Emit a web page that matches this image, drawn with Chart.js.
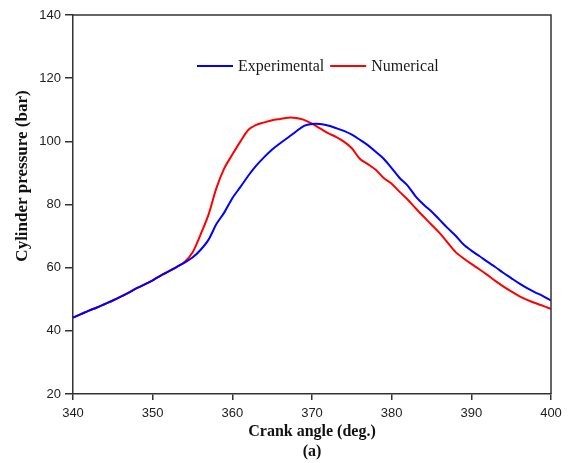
<!DOCTYPE html>
<html>
<head>
<meta charset="utf-8">
<script src="https://cdn.jsdelivr.net/npm/chart.js@4.4.1/dist/chart.umd.min.js"></script>
<style>
  html, body { margin: 0; padding: 0; background: #fff; }
  canvas { display: block; }
</style>
</head>
<body>
<canvas id="chart" width="568" height="463"></canvas>
<script>
// crank angle, deg.
var crankAngle = [340, 341, 342, 343, 344, 345, 346, 347, 348, 349,
  350, 351, 352, 353, 354, 355, 356, 357, 358, 359,
  360, 361, 362, 363, 364, 365, 366, 367, 368, 369,
  370, 371, 372, 373, 374, 375, 376, 377, 378, 379,
  380, 381, 382, 383, 384, 385, 386, 387, 388, 389,
  390, 391, 392, 393, 394, 395, 396, 397, 398, 399, 400];

// cylinder pressure, bar
var experimental = [44.2, 45.3, 46.4, 47.4, 48.5, 49.6, 50.8, 52.1, 53.5, 54.7,
  56.0, 57.5, 58.8, 60.2, 61.6, 63.2, 65.6, 68.8, 73.8, 77.5,
  82.0, 85.5, 89.1, 92.3, 95.0, 97.4, 99.4, 101.2, 103.1, 104.9,
  105.5, 105.5, 105.0, 104.2, 103.3, 102.1, 100.5, 98.8, 96.7, 94.5,
  91.5, 88.4, 86.0, 82.6, 80.0, 77.8, 75.2, 72.6, 70.2, 67.4,
  65.4, 63.7, 61.9, 60.2, 58.4, 56.7, 55.0, 53.5, 52.2, 51.0, 49.6];

var numerical = [44.2, 45.3, 46.4, 47.4, 48.5, 49.6, 50.8, 52.1, 53.5, 54.7,
  56.0, 57.5, 58.8, 60.2, 61.8, 64.8, 70.4, 76.7, 85.2, 91.5,
  95.8, 99.9, 103.6, 105.2, 106.0, 106.7, 107.1, 107.5, 107.4, 106.8,
  105.6, 104.1, 102.6, 101.4, 99.9, 97.8, 94.5, 92.8, 91.0, 88.4,
  86.6, 84.0, 81.6, 78.8, 76.2, 73.6, 71.0, 68.0, 65.0, 63.0,
  61.2, 59.5, 57.7, 55.8, 54.1, 52.5, 51.0, 49.8, 48.8, 47.9, 46.9];

var xTicks = [340, 350, 360, 370, 380, 390, 400];
var yTicks = [20, 40, 60, 80, 100, 120, 140];

var serif = '"Liberation Serif", "Times New Roman", serif';
var sans = '"Liberation Sans", Arial, sans-serif';
var axisColor = '#333';

function points(ys) {
  return crankAngle.map(function (x, i) { return { x: x, y: ys[i] }; });
}

// box round the plot, legend inside the plot, y title (sits above centre in the original)
var extras = {
  id: 'extras',
  afterDraw: function (chart) {
    var ctx = chart.ctx;
    var a = chart.chartArea;
    ctx.save();
    ctx.strokeStyle = axisColor;
    ctx.lineWidth = 1.5;
    ctx.beginPath();
    ctx.moveTo(a.left, a.top);
    ctx.lineTo(a.right, a.top);
    ctx.lineTo(a.right, a.bottom);
    ctx.stroke();

    // legend
    var lx = 197, ly = 66;
    ctx.font = '16px ' + serif;
    ctx.textBaseline = 'middle';
    ctx.textAlign = 'left';
    chart.data.datasets.forEach(function (ds) {
      ctx.strokeStyle = ds.borderColor;
      ctx.lineWidth = 2;
      ctx.beginPath();
      ctx.moveTo(lx, ly);
      ctx.lineTo(lx + 36, ly);
      ctx.stroke();
      ctx.fillStyle = '#1a1a1a';
      ctx.fillText(ds.label, lx + 41, ly + 1);
      lx += 41 + ctx.measureText(ds.label).width + 6;
    });

    // y axis title
    ctx.translate(23, 176);
    ctx.rotate(-Math.PI / 2);
    ctx.textAlign = 'center';
    ctx.font = 'bold 17px ' + serif;
    ctx.fillStyle = '#111';
    ctx.fillText('Cylinder pressure (bar)', 0, 0);
    ctx.restore();
  }
};

new Chart(document.getElementById('chart'), {
  type: 'line',
  data: {
    datasets: [
      { label: 'Experimental', data: points(experimental), borderColor: '#0000ff', borderWidth: 2 },
      { label: 'Numerical', data: points(numerical), borderColor: '#ff0000', borderWidth: 2 }
    ]
  },
  options: {
    responsive: false,
    animation: false,
    layout: { padding: { top: 15, right: 17, left: 0, bottom: 0 } },
    elements: {
      point: { radius: 0 },
      line: { tension: 0.3, fill: false }
    },
    plugins: {
      legend: { display: false },
      tooltip: { enabled: false },
      title: {
        display: true,
        text: '(a)',
        position: 'bottom',
        fullSize: false,
        color: '#111',
        font: { family: serif, size: 16, weight: 'bold' },
        padding: { top: 0, bottom: 2 }
      }
    },
    scales: {
      x: {
        type: 'linear',
        min: 340,
        max: 400,
        afterBuildTicks: function (s) { s.ticks = xTicks.map(function (v) { return { value: v }; }); },
        afterFit: function (s) { s.height = 47.8; },
        ticks: { color: '#222', padding: 6, font: { family: sans, size: 13 } },
        grid: { drawOnChartArea: false, tickLength: 6, color: axisColor, lineWidth: 1.5 },
        border: { color: axisColor, width: 1.5 },
        title: {
          display: true,
          text: 'Crank angle (deg.)',
          color: '#111',
          font: { family: serif, size: 16, weight: 'bold' },
          padding: 0
        }
      },
      y: {
        min: 20,
        max: 140,
        afterBuildTicks: function (s) { s.ticks = yTicks.map(function (v) { return { value: v }; }); },
        afterFit: function (s) { s.width = 73; },
        ticks: { color: '#222', padding: 4, font: { family: sans, size: 13 } },
        grid: { drawOnChartArea: false, tickLength: 8, color: axisColor, lineWidth: 1.5 },
        border: { color: axisColor, width: 1.5 }
      }
    }
  },
  plugins: [extras]
});
</script>
</body>
</html>
